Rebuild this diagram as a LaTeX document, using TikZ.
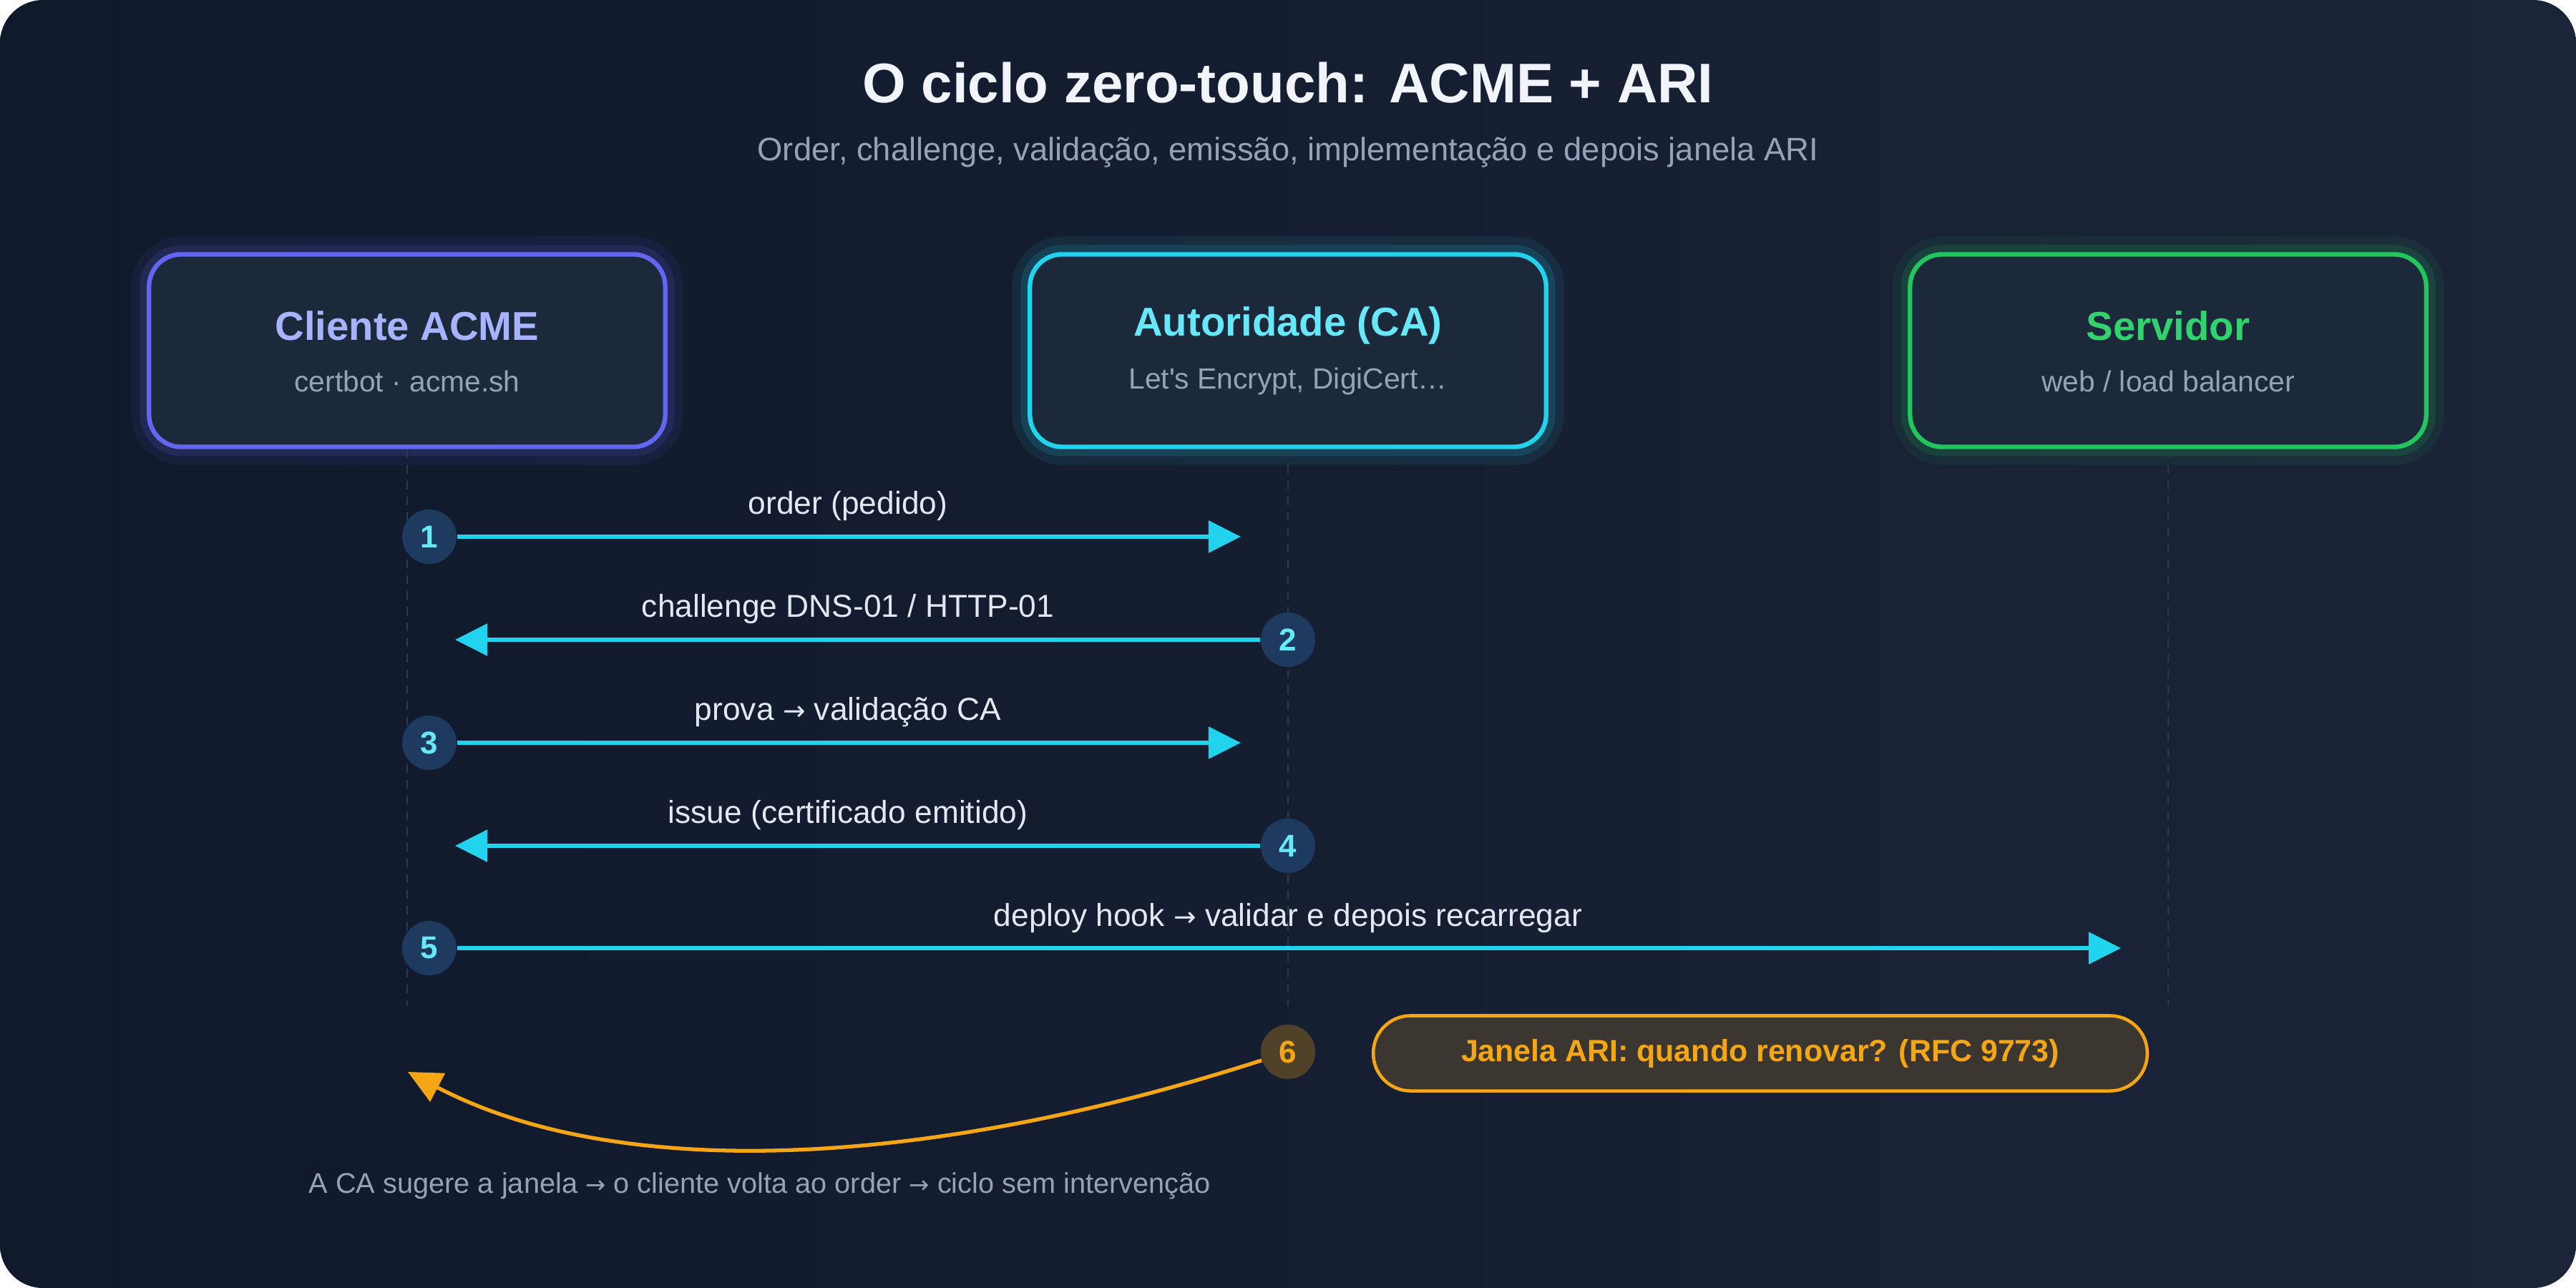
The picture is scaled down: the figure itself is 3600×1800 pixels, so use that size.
\documentclass[tikz,border=0pt]{standalone}
\usepackage{fontspec}
\setmainfont{Liberation Sans}
\newfontfamily\arrowfont{DejaVu Sans}
\usepackage{tikz}
\usetikzlibrary{arrows.meta, positioning, calc}
\definecolor{bgdark}{RGB}{16, 24, 43}
\definecolor{bgmid}{RGB}{27, 36, 56}
\definecolor{boxfill}{RGB}{28, 41, 59}
\definecolor{indigoline}{RGB}{99, 102, 241}
\definecolor{indigolight}{RGB}{165, 180, 252}
\definecolor{cyanline}{RGB}{34, 211, 238}
\definecolor{cyanlight}{RGB}{103, 232, 249}
\definecolor{greenline}{RGB}{34, 197, 94}
\definecolor{greenlight}{RGB}{50, 210, 110}
\definecolor{ambertone}{RGB}{245, 166, 20}
\definecolor{amberfill}{RGB}{59, 54, 47}
\definecolor{amberdot}{RGB}{80, 66, 40}
\definecolor{stepfill}{RGB}{30, 58, 95}
\definecolor{slatetext}{RGB}{148, 163, 184}
\definecolor{lighttext}{RGB}{226, 232, 240}
\definecolor{titletext}{RGB}{241, 245, 249}
\definecolor{lifegray}{RGB}{44, 57, 80}
\newcommand{\flowto}{{\arrowfont\scalebox{0.85}{→}}}

\begin{document}
\begin{tikzpicture}[
    x=0.01cm, y=-0.01cm,
    % Style definitions
    actorbox/.style={draw=#1, fill=boxfill, rounded corners=0.45cm, line width=1.8pt, minimum width=7.21cm, minimum height=2.69cm,
        preaction={draw=#1, draw opacity=0.08, line width=0.5cm}, preaction={draw=#1, draw opacity=0.14, line width=0.26cm}},
    actorname/.style={font=\fontsize{16}{19}\selectfont\bfseries, text=#1},
    actornote/.style={font=\fontsize{11.6}{14}\selectfont, text=slatetext},
    lifeline/.style={draw=lifegray, line width=0.8pt, dash pattern=on 0.12cm off 0.1cm},
    stepdot/.style={circle, fill=stepfill, minimum size=0.76cm, inner sep=0pt, font=\fontsize{12.5}{15}\selectfont\bfseries, text=cyanlight},
    msgarrow/.style={-{Triangle[length=0.45cm, width=0.44cm]}, line width=1.5pt, cyanline},
    msglabel/.style={font=\fontsize{12.6}{15}\selectfont, text=lighttext},
    aribox/.style={draw=ambertone, fill=amberfill, rounded corners=0.52cm, line width=1.3pt, minimum width=10.81cm, minimum height=1.05cm, font=\fontsize{12.2}{15}\selectfont\bfseries, text=ambertone},
    loopback/.style={-{Triangle[length=0.47cm, width=0.44cm]}, line width=1.5pt, ambertone}
]
    \useasboundingbox (0,0) rectangle (3600,1800);
    \fill[white] (0,0) rectangle (3600,1800);
    \shade[left color=bgdark, right color=bgmid, rounded corners=0.6cm] (0,0) rectangle (3600,1800);

    % === HEADER ===
    \node (title) [font=\fontsize{22.2}{27}\selectfont\bfseries, text=titletext] at (1800,116) {O ciclo zero-touch: ACME + ARI};
    \node (subtitle) [font=\fontsize{12.9}{16}\selectfont, text=slatetext] at (1800,213) {Order, challenge, validação, emissão, implementação e depois janela ARI};

    % === ACTORS ===
    \node (cli) [actorbox=indigoline] at (569,490) {};
    \node (cli_name) [actorname=indigolight] at (569,455) {Cliente ACME};
    \node (cli_note) [actornote] at (569,533) {certbot · acme.sh};

    \node (ca) [actorbox=cyanline] at (1800,490) {};
    \node (ca_name) [actorname=cyanlight] at (1800,455) {Autoridade (CA)};
    \node (ca_note) [actornote] at (1800,533) {Let\textquotesingle s Encrypt, DigiCert…};

    \node (srv) [actorbox=greenline] at (3030,490) {};
    \node (srv_name) [actorname=greenlight] at (3030,455) {Servidor};
    \node (srv_note) [actornote] at (3030,533) {web / load balancer};

    % lifelines
    \coordinate (lifeend) at (0,1405);
    \draw[lifeline] (cli.south) -- (cli.south |- lifeend);
    \draw[lifeline] (ca.south) -- (ca.south |- lifeend);
    \draw[lifeline] (srv.south) -- (srv.south |- lifeend);

    % === MESSAGES ===
    \node (s1) [stepdot] at (600,750) {1};
    \node (s2) [stepdot] at (1800,894) {2};
    \node (s3) [stepdot] at (600,1038) {3};
    \node (s4) [stepdot] at (1800,1182) {4};
    \node (s5) [stepdot] at (600,1325) {5};
    \node (s6) [stepdot, fill=amberdot, text=ambertone] at (1800,1470) {6};

    \draw[msgarrow] (s1) -- ([xshift=-0.66cm]s1 -| ca);
    \draw[msgarrow] (s2) -- ([xshift=0.67cm]s2 -| cli);
    \draw[msgarrow] (s3) -- ([xshift=-0.66cm]s3 -| ca);
    \draw[msgarrow] (s4) -- ([xshift=0.67cm]s4 -| cli);
    \draw[msgarrow] (s5) -- ([xshift=-0.66cm]s5 -| srv);

    \node (m1) [msglabel] at (1185,707) {order (pedido)};
    \node (m2) [msglabel] at (1185,851) {challenge DNS-01 / HTTP-01};
    \node (m3) [msglabel] at (1185,995) {prova \flowto{} validação CA};
    \node (m4) [msglabel] at (1185,1139) {issue (certificado emitido)};
    \node (m5) [msglabel] at (1800,1283) {deploy hook \flowto{} validar e depois recarregar};

    % === ARI WINDOW ===
    \node (ari) [aribox] at (2460,1472) {Janela ARI: quando renovar? (RFC 9773)};

    \coordinate (back) at (570,1498);
    \draw[loopback] (s6) .. controls (1284,1636) and (860,1650) .. (back);

    \node (caption) [font=\fontsize{11.3}{14}\selectfont, text=slatetext, anchor=west, inner sep=0pt] at (431,1657) {A CA sugere a janela \flowto{} o cliente volta ao order \flowto{} ciclo sem intervenção};

\end{tikzpicture}
\end{document}
